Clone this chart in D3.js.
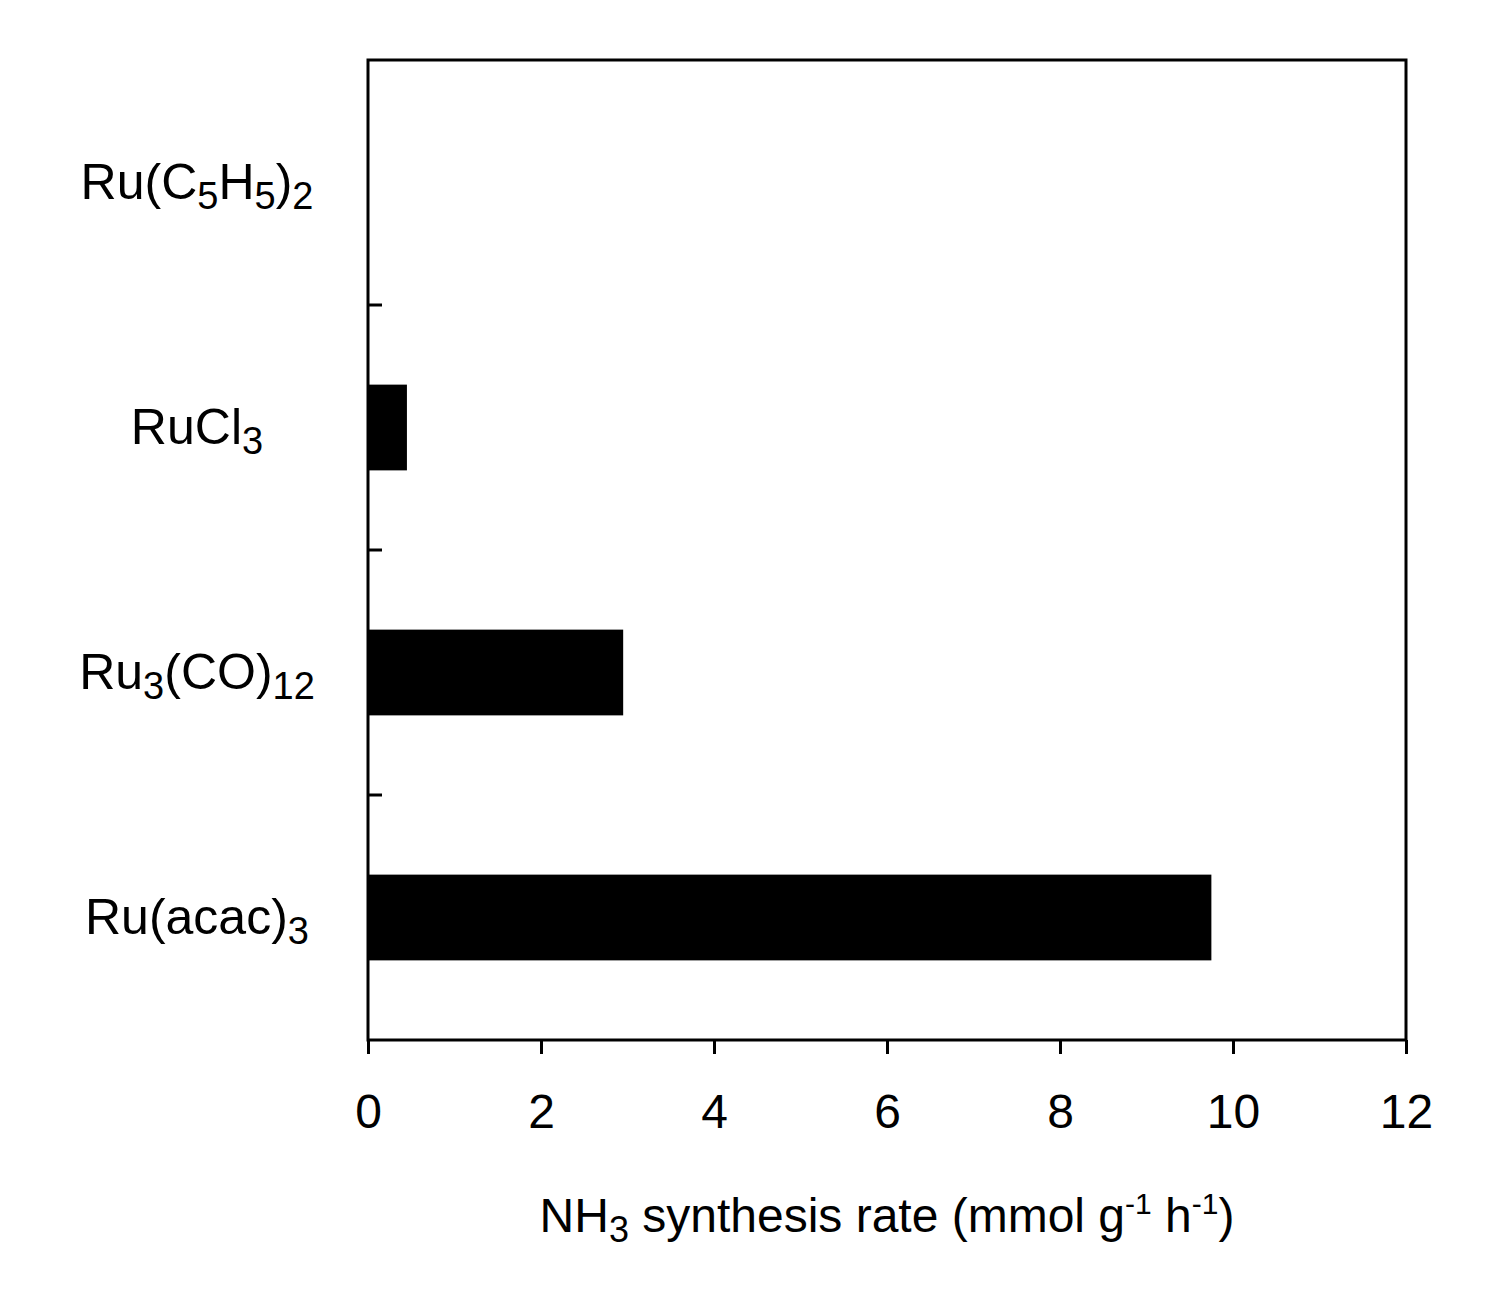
<!DOCTYPE html>
<html>
<head>
<meta charset="utf-8">
<script src="https://cdn.jsdelivr.net/npm/d3@7"></script>
<style>body{margin:0;background:#fff}</style>
</head>
<body>
<div id="chart"></div>
<script>
// categories top to bottom, each label as [text, isSubscript] parts
const categories = ["Ru(C5H5)2", "RuCl3", "Ru3(CO)12", "Ru(acac)3"];
const labelParts = [
    [["Ru(C",0],["5",1],["H",0],["5",1],[")",0],["2",1]],
    [["RuCl",0],["3",1]],
    [["Ru",0],["3",1],["(CO)",0],["12",1]],
    [["Ru(acac)",0],["3",1]]
];
const rates = [0, 0.45, 2.95, 9.75];
const xTicks = [0, 2, 4, 6, 8, 10, 12];

const width = 1488, height = 1292;
const mLeft = 368, mRight = 1406, mTop = 60, mBottom = 1040;
const font = "Liberation Sans, Arial, sans-serif";

const svg = d3.select("#chart").append("svg")
    .attr("width", width).attr("height", height);

const x = d3.scaleLinear().domain([0, 12]).range([mLeft, mRight]);
const y = d3.scaleBand().domain(categories).range([mTop, mBottom]).paddingInner(0.65).paddingOuter(0.325);
const yOuter = d3.scaleBand().domain(categories).range([mTop, mBottom]);

// bars
svg.selectAll("rect.bar").data(categories).enter().append("rect")
    .attr("x", x(0))
    .attr("y", d => y(d))
    .attr("width", (d, i) => x(rates[i]) - x(0))
    .attr("height", y.bandwidth())
    .attr("fill", "#000");

// frame
svg.append("rect")
    .attr("x", mLeft).attr("y", mTop)
    .attr("width", mRight - mLeft).attr("height", mBottom - mTop)
    .attr("fill", "none").attr("stroke", "#000").attr("stroke-width", 3);

// x axis
const xAxis = d3.axisBottom(x).tickValues(xTicks).tickSize(14).tickPadding(40);
const gx = svg.append("g").attr("transform", `translate(0,${mBottom})`).call(xAxis);
gx.select(".domain").remove();
gx.selectAll(".tick line").attr("stroke-width", 3);
gx.selectAll(".tick text").attr("font-size", 48).attr("font-family", font).attr("fill", "#000");

// category separator ticks on left axis
svg.selectAll("line.sep").data(categories.slice(1)).enter().append("line")
    .attr("x1", mLeft).attr("x2", mLeft + 14)
    .attr("y1", d => yOuter(d)).attr("y2", d => yOuter(d))
    .attr("stroke", "#000").attr("stroke-width", 3);

// category labels
categories.forEach((c, i) => {
    const t = svg.append("text")
        .attr("x", 197).attr("y", y(c) + y.bandwidth() / 2 + 16)
        .attr("text-anchor", "middle")
        .attr("font-family", font).attr("font-size", 50);
    labelParts[i].forEach(([s, sub], j) => {
        const ts = t.append("tspan").text(s);
        const prevSub = j > 0 && labelParts[i][j - 1][1];
        if (sub && !prevSub) ts.attr("dy", 10).attr("font-size", 38);
        else if (sub) ts.attr("font-size", 38);
        else if (prevSub) ts.attr("dy", -10);
    });
});

// axis title
const title = svg.append("text")
    .attr("x", 887).attr("y", 1232)
    .attr("text-anchor", "middle")
    .attr("font-family", font).attr("font-size", 48);
title.append("tspan").text("NH");
title.append("tspan").text("3").attr("dy", 10).attr("font-size", 36);
title.append("tspan").text(" synthesis rate (mmol  g").attr("dy", -10);
title.append("tspan").text("-1").attr("dy", -18).attr("font-size", 30);
title.append("tspan").text(" h").attr("dy", 18);
title.append("tspan").text("-1").attr("dy", -18).attr("font-size", 30);
title.append("tspan").text(")").attr("dy", 18);
</script>
</body>
</html>
